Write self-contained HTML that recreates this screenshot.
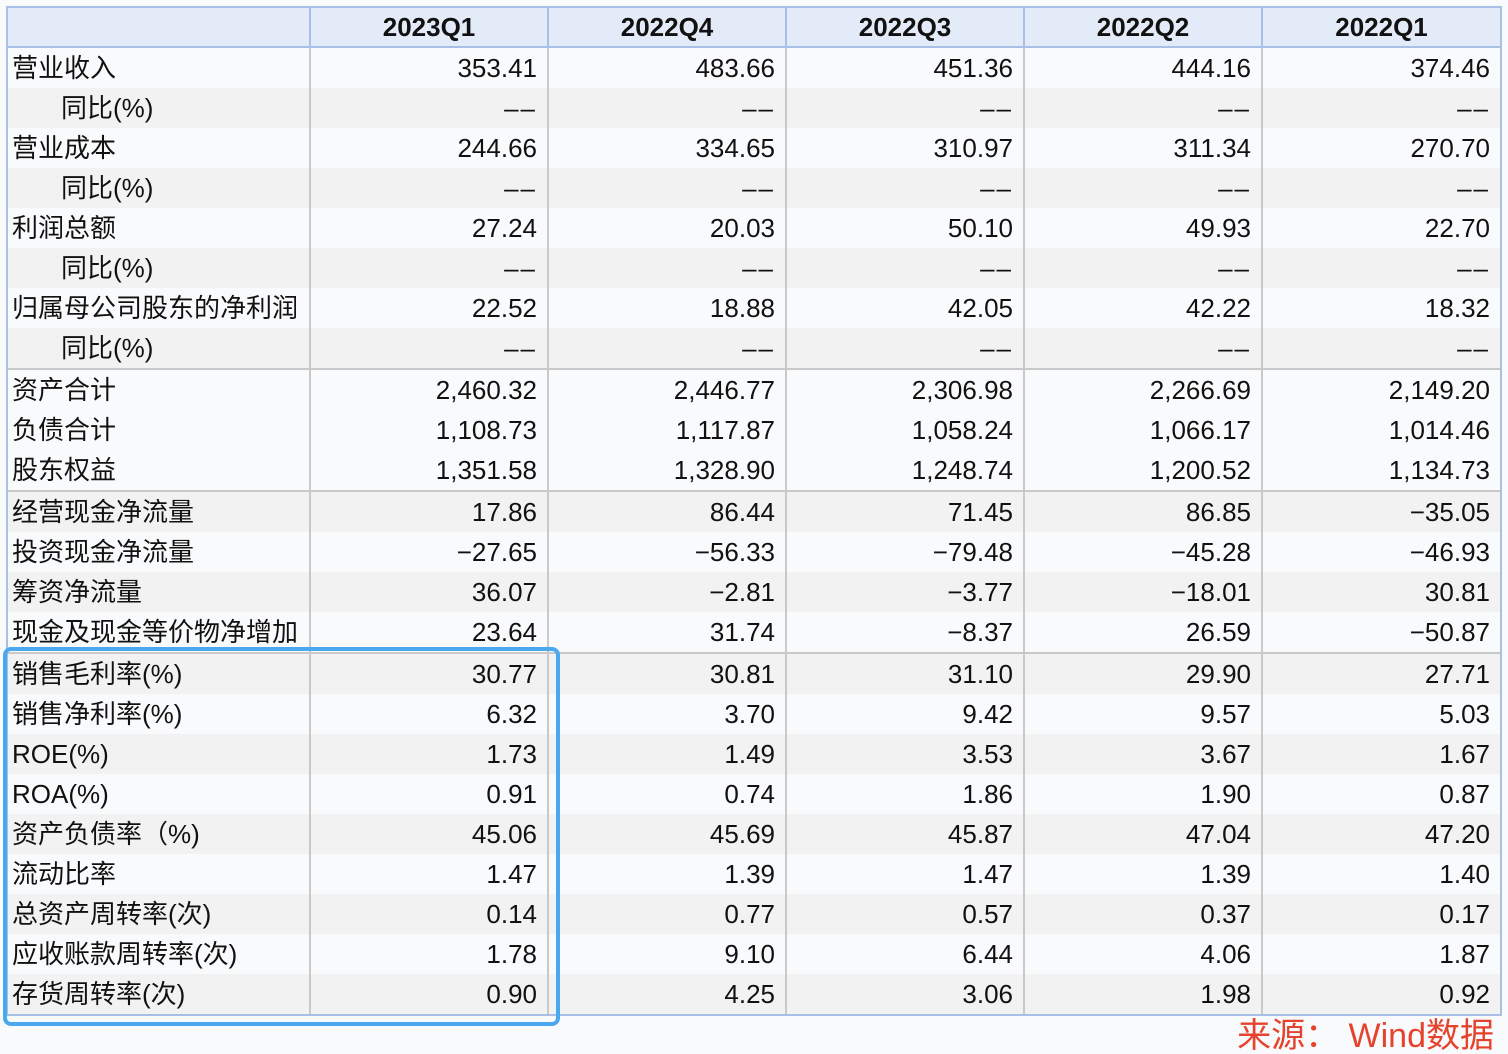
<!DOCTYPE html>
<html><head><meta charset="utf-8"><style>
html,body{margin:0;padding:0;background:#f9fafc;width:1508px;height:1054px;overflow:hidden;position:relative;font-family:"Liberation Sans","Noto Sans CJK SC",sans-serif;color:#111;}
table{position:absolute;left:6px;top:6px;border-collapse:collapse;table-layout:fixed;font-size:26px;}
td,th{height:40px;padding:0 10px;border-left:2px solid #c9c9c9;border-right:2px solid #c9c9c9;white-space:nowrap;overflow:hidden;line-height:40px;}
th{background:#e3ebf8;font-weight:bold;border:2px solid #a8c0e6;text-align:center;height:38px;line-height:38px;}
td{text-align:right;}
td:first-child{text-align:left;padding-left:4px;border-left:2px solid #a8c0e6;}
td:last-child{border-right:2px solid #a8c0e6;}
tr.g td{background:#f2f2f2;}
tr.l td{background:#f9fafc;}
tr.s td{border-top:2px solid #c9c9c9;}
tr.e td{border-bottom:2px solid #a8c0e6;}
.i{padding-left:53px!important;}
.d{font-family:"Liberation Sans",sans-serif;letter-spacing:2px;}
.box{position:absolute;left:3px;top:647px;width:549px;height:371px;border:4px solid #4aa8ef;border-radius:8px;}
.src{position:absolute;right:14px;top:1008px;color:#e5432e;font-size:34px;}
</style></head><body>
<table>
<colgroup><col style="width:303px"><col style="width:238px"><col style="width:238px"><col style="width:238px"><col style="width:238px"><col style="width:239px"></colgroup>
<tr><th></th><th>2023Q1</th><th>2022Q4</th><th>2022Q3</th><th>2022Q2</th><th>2022Q1</th></tr>
<tr class="l"><td>营业收入</td><td>353.41</td><td>483.66</td><td>451.36</td><td>444.16</td><td>374.46</td></tr>
<tr class="g"><td class="i">同比(%)</td><td class="d">––</td><td class="d">––</td><td class="d">––</td><td class="d">––</td><td class="d">––</td></tr>
<tr class="l"><td>营业成本</td><td>244.66</td><td>334.65</td><td>310.97</td><td>311.34</td><td>270.70</td></tr>
<tr class="g"><td class="i">同比(%)</td><td class="d">––</td><td class="d">––</td><td class="d">––</td><td class="d">––</td><td class="d">––</td></tr>
<tr class="l"><td>利润总额</td><td>27.24</td><td>20.03</td><td>50.10</td><td>49.93</td><td>22.70</td></tr>
<tr class="g"><td class="i">同比(%)</td><td class="d">––</td><td class="d">––</td><td class="d">––</td><td class="d">––</td><td class="d">––</td></tr>
<tr class="l"><td>归属母公司股东的净利润</td><td>22.52</td><td>18.88</td><td>42.05</td><td>42.22</td><td>18.32</td></tr>
<tr class="g"><td class="i">同比(%)</td><td class="d">––</td><td class="d">––</td><td class="d">––</td><td class="d">––</td><td class="d">––</td></tr>
<tr class="l s"><td>资产合计</td><td>2,460.32</td><td>2,446.77</td><td>2,306.98</td><td>2,266.69</td><td>2,149.20</td></tr>
<tr class="l"><td>负债合计</td><td>1,108.73</td><td>1,117.87</td><td>1,058.24</td><td>1,066.17</td><td>1,014.46</td></tr>
<tr class="l"><td>股东权益</td><td>1,351.58</td><td>1,328.90</td><td>1,248.74</td><td>1,200.52</td><td>1,134.73</td></tr>
<tr class="g s"><td>经营现金净流量</td><td>17.86</td><td>86.44</td><td>71.45</td><td>86.85</td><td>−35.05</td></tr>
<tr class="l"><td>投资现金净流量</td><td>−27.65</td><td>−56.33</td><td>−79.48</td><td>−45.28</td><td>−46.93</td></tr>
<tr class="g"><td>筹资净流量</td><td>36.07</td><td>−2.81</td><td>−3.77</td><td>−18.01</td><td>30.81</td></tr>
<tr class="l"><td>现金及现金等价物净增加</td><td>23.64</td><td>31.74</td><td>−8.37</td><td>26.59</td><td>−50.87</td></tr>
<tr class="g s"><td>销售毛利率(%)</td><td>30.77</td><td>30.81</td><td>31.10</td><td>29.90</td><td>27.71</td></tr>
<tr class="l"><td>销售净利率(%)</td><td>6.32</td><td>3.70</td><td>9.42</td><td>9.57</td><td>5.03</td></tr>
<tr class="g"><td>ROE(%)</td><td>1.73</td><td>1.49</td><td>3.53</td><td>3.67</td><td>1.67</td></tr>
<tr class="l"><td>ROA(%)</td><td>0.91</td><td>0.74</td><td>1.86</td><td>1.90</td><td>0.87</td></tr>
<tr class="g"><td>资产负债率（%)</td><td>45.06</td><td>45.69</td><td>45.87</td><td>47.04</td><td>47.20</td></tr>
<tr class="l"><td>流动比率</td><td>1.47</td><td>1.39</td><td>1.47</td><td>1.39</td><td>1.40</td></tr>
<tr class="g"><td>总资产周转率(次)</td><td>0.14</td><td>0.77</td><td>0.57</td><td>0.37</td><td>0.17</td></tr>
<tr class="l"><td>应收账款周转率(次)</td><td>1.78</td><td>9.10</td><td>6.44</td><td>4.06</td><td>1.87</td></tr>
<tr class="g e"><td>存货周转率(次)</td><td>0.90</td><td>4.25</td><td>3.06</td><td>1.98</td><td>0.92</td></tr>
</table>
<div class="box"></div>
<div class="src">来源： Wind数据</div>
</body></html>
